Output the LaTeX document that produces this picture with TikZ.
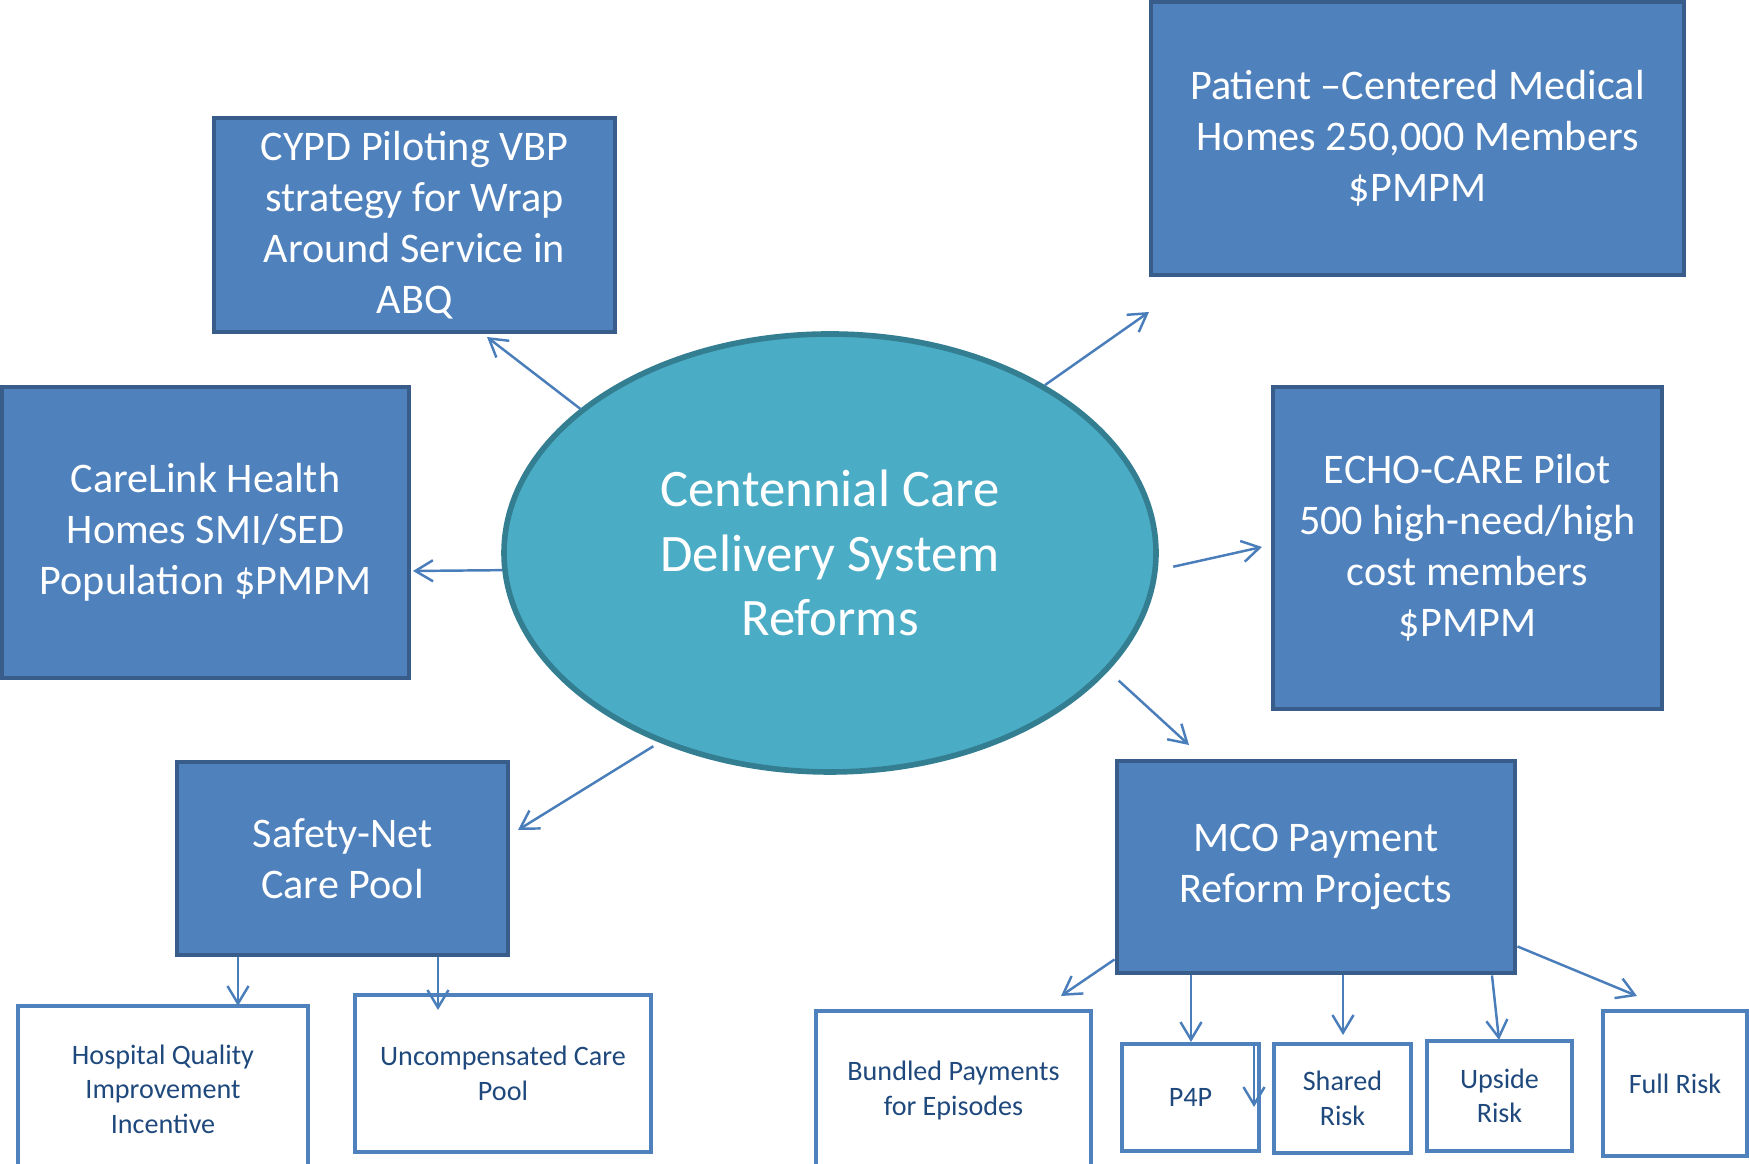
\documentclass[tikz,border=0pt]{standalone}
\usepackage{fontspec}
\setmainfont{Carlito}
\usetikzlibrary{arrows.meta,shapes.geometric}

\begin{document}
\begin{tikzpicture}
    % Define colors
    \definecolor{boxfill}{RGB}{79,129,189}
    \definecolor{boxline}{RGB}{56,93,138}
    \definecolor{hubfill}{RGB}{75,172,198}
    \definecolor{hubline}{RGB}{52,126,146}
    \definecolor{arrowblue}{RGB}{74,126,187}
    \definecolor{textnavy}{RGB}{31,73,125}

    % Define styles
    \tikzstyle{program} = [rectangle, draw=boxline, line width=1.4pt, fill=boxfill, text=white, align=center, font=\fontsize{12}{14.5}\selectfont]
    \tikzstyle{option} = [rectangle, draw=boxfill, line width=1.3pt, fill=white, text=textnavy, align=center, font=\fontsize{8}{9.8}\selectfont]
    \tikzstyle{link} = [-{Straight Barb[length=5pt, width=6pt]}, line width=0.7pt, arrowblue]

    \useasboundingbox (0,0) rectangle (17.49,11.64);

    % Centre
    \node[ellipse, draw=hubline, line width=1.6pt, fill=hubfill, minimum width=6.52cm, minimum height=4.38cm, text=white, align=center, font=\fontsize{15}{18.4}\selectfont] (hub) at (8.30,6.11) {Centennial Care\\Delivery System\\Reforms};

    % Programs round the centre
    \node[program, minimum width=4.01cm, minimum height=2.14cm] (cypd) at (4.145,9.39) {CYPD Piloting VBP\\strategy for Wrap\\Around Service in\\ABQ};
    \node[program, minimum width=5.33cm, minimum height=2.73cm] (pcmh) at (14.175,10.255) {Patient --Centered Medical\\Homes 250,000 Members\\\$PMPM};
    \node[program, minimum width=4.07cm, minimum height=2.91cm] (carelink) at (2.055,6.315) {CareLink Health\\Homes SMI/SED\\Population \$PMPM};
    \node[program, minimum width=3.89cm, minimum height=3.22cm] (echo) at (14.675,6.16) {ECHO-CARE Pilot\\500 high-need/high\\cost members\\\$PMPM};
    \node[program, minimum width=3.31cm, minimum height=1.93cm] (safety) at (3.425,3.055) {Safety-Net\\Care Pool};
    \node[program, minimum width=3.98cm, minimum height=2.12cm] (mco) at (13.16,2.97) {MCO Payment\\Reform Projects};

    % Safety-Net pools
    \node[option, minimum width=2.90cm, minimum height=1.66cm] (hqi) at (1.63,0.75) {Hospital Quality\\Improvement\\Incentive};
    \node[option, minimum width=2.96cm, minimum height=1.57cm] (ucp) at (5.03,0.905) {Uncompensated Care\\Pool};

    % MCO projects
    \node[option, minimum width=2.75cm, minimum height=1.59cm] (bundled) at (9.535,0.735) {Bundled Payments\\for Episodes};
    \node[option, minimum width=1.37cm, minimum height=1.07cm] (p4p) at (11.905,0.665) {P4P};
    \node[option, minimum width=1.37cm, minimum height=1.09cm] (shared) at (13.425,0.655) {Shared\\Risk};
    \node[option, minimum width=1.45cm, minimum height=1.10cm] (upside) at (14.995,0.68) {Upside\\Risk};
    \node[option, minimum width=1.44cm, minimum height=1.45cm] (fullrisk) at (16.75,0.805) {Full Risk};

    % Arrow tips
    \coordinate (cypdTip) at (4.87,8.27);
    \coordinate (pcmhTip) at (11.49,8.52);
    \coordinate (carelinkTip) at (4.13,5.93);
    \coordinate (echoTip) at (12.62,6.17);
    \coordinate (safetyTip) at (5.18,3.34);
    \coordinate (mcoTip) at (11.89,4.19);
    \coordinate (hqiTip) at (2.38,1.58);
    \coordinate (ucpTip) at (4.38,1.54);
    \coordinate (bundledTip) at (10.61,1.68);
    \coordinate (p4pTip) at (11.91,1.22);
    \coordinate (sharedTip) at (13.43,1.29);
    \coordinate (upsideTip) at (14.99,1.24);
    \coordinate (fullriskTip) at (16.37,1.68);
    \coordinate (p4pStray) at (12.54,0.57);

    % Arrows from the centre
    \draw[link] (hub.150) -- (cypdTip);
    \draw[link] (hub.38) -- (pcmhTip);
    \draw[link] (hub.183) -- (carelinkTip);
    \draw[link, shorten <=4.5pt] (hub.-3) -- (echoTip);
    \draw[link, shorten <=2pt] (hub.228) -- (safetyTip);
    \draw[link, shorten <=4pt] (hub.-23) -- (mcoTip);

    % Arrows to the pools
    \draw[link] (safety.south -| hqiTip) -- (hqiTip);
    \draw[link] (safety.south -| ucpTip) -- (ucpTip);

    % Arrows to the projects
    \draw[link] ([yshift=0.16cm]mco.south west) -- (bundledTip);
    \draw[link] (mco.south -| p4pTip) -- (p4pTip);
    \draw[link] (mco.south -| sharedTip) -- (sharedTip);
    \draw[link] ([xshift=-0.07cm]mco.south -| upsideTip) -- (upsideTip);
    \draw[link] ([yshift=0.29cm]mco.south east) -- (fullriskTip);
    \draw[link] (p4p.north east -| p4pStray) -- (p4pStray);
\end{tikzpicture}
\end{document}
